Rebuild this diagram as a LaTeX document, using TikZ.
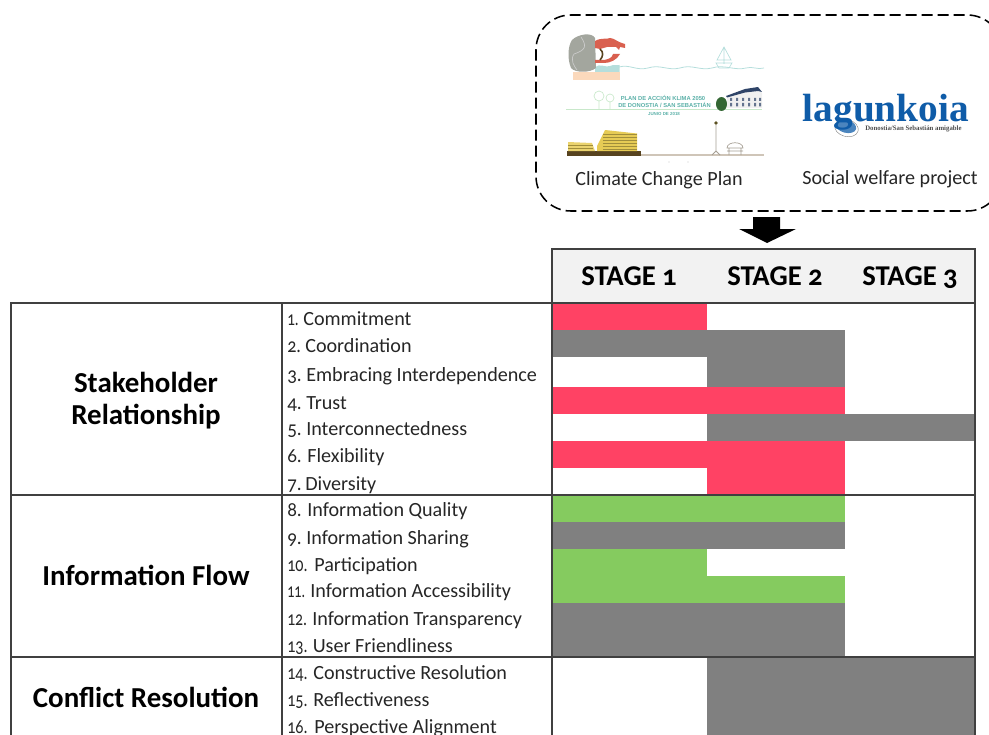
\documentclass[tikz,border=0pt]{standalone}
\usepackage{graphicx}
\usepackage{fontspec}
\setmainfont[Numbers=OldStyle]{Carlito}
\newfontfamily\logofont{Liberation Serif}
\newfontfamily\posterfont{Liberation Sans}
\definecolor{gridc}{HTML}{404040}
\definecolor{headc}{HTML}{F2F2F2}
\definecolor{pinkc}{HTML}{FF4264}
\definecolor{grayc}{HTML}{808080}
\definecolor{greenc}{HTML}{85CB5F}
\definecolor{logoc}{HTML}{0F5CA8}
\definecolor{tealc}{HTML}{5BB0A8}
\definecolor{palet}{HTML}{B5DEDC}
\definecolor{paleg}{HTML}{C8E8CA}
\definecolor{yell}{HTML}{E6CB55}
\definecolor{browng}{HTML}{57431F}
\definecolor{sandl}{HTML}{CFC5B8}
\definecolor{rockc}{HTML}{A3A69E}
\definecolor{jawc}{HTML}{D9604F}
\definecolor{sandc}{HTML}{FBD9BC}
\definecolor{roofc}{HTML}{2F4468}
% number prefix: #1 = width in picture pixels, #2 = horizontal scale, #3 = text
\newcommand{\prefixbox}[3]{\makebox[\dimexpr#1pt*3/4\relax][l]{\scalebox{#2}[1]{#3}}}
\tikzset{
  grid line/.style={draw=gridc,line width=1.1pt},
  item/.style={anchor=base west,inner sep=0pt,font=\fontsize{15.1pt}{17pt}\selectfont,text=black!85},
  cat/.style={anchor=base,inner sep=0pt,font=\fontsize{21.7pt}{24pt}\selectfont\bfseries,text=black},
  stagelabel/.style={anchor=base,inner sep=0pt,font=\fontsize{21.5pt}{24pt}\selectfont\bfseries,text=black},
  captext/.style={anchor=base,inner sep=0pt,font=\fontsize{15.1pt}{17pt}\selectfont,text=black!85},
  poster/.style={anchor=base,inner sep=0pt,text=tealc,font=\posterfont\fontsize{4.35pt}{5pt}\selectfont\bfseries},
}
\begin{document}
\begin{tikzpicture}[x=0.75pt,y=-0.75pt]
\useasboundingbox (0,0) rectangle (989,735);
\clip (0,0) rectangle (989,735);
% dashed frame
\draw[black,line width=1.15pt,dash pattern=on 8.2pt off 3.8pt,rounded corners=26pt] (536,15) rectangle (1002,211);
% poster: top band
\fill[sandc] (573,72) rectangle (619.5,80);
\fill[palet] (595,67) .. controls (600,63) and (606,68) .. (610,66) .. controls (614,64) and (617,66) .. (619.5,65) -- (619.5,72) -- (595,72) -- cycle;
\fill[rockc] (572,40) .. controls (578,34) and (592,32) .. (595,38) -- (596,68) .. controls (590,73) and (575,73) .. (571,68) .. controls (567,58) and (568,46) .. (572,40) -- cycle;
\draw[black!20,line width=0.5pt] (581,37) .. controls (587,46) and (586,50) .. (574,54) .. controls (570,60) and (574,66) .. (577,70);
\fill[jawc] (595,41) .. controls (602,37) and (606,40) .. (610,38) .. controls (614,38) and (617,42) .. (625,44) -- (625,48) -- (620,47) -- (619,50) -- (616,47) -- (607,47) -- (600,49) -- (595,48) -- cycle;
\fill[jawc] (595,60) -- (604,60) .. controls (609,59) and (612,58) .. (613,54) -- (620,54) .. controls (617,60) and (610,63) .. (604,63) -- (595,63) -- cycle;
\draw[browng,line width=1.2pt] (600,49) .. controls (604,52) and (603,57) .. (600,60);
\draw[palet,line width=0.6pt] (619,67) .. controls (630,64) and (636,71) .. (648,68) .. controls (660,64) and (668,71) .. (680,68) .. controls (692,64) and (700,71) .. (712,68) .. controls (724,64) and (735,71) .. (746,68) .. controls (752,66) and (758,70) .. (764,68);
\draw[palet,line width=0.5pt] (724,47) -- (717,60) -- (731,60) -- cycle (724,47) -- (724,64) (716,63) -- (732,63) -- (729,68) -- (719,68) -- cycle;
% poster: middle band
\draw[paleg,line width=0.6pt] (566,109.5) -- (762,109.5);
\draw[paleg,line width=0.5pt] (599,96) circle (5) (599,101) -- (599,109.5) (610,98) circle (4) (610,102) -- (610,109.5);
\node[poster] (ptitlea) at (663,100) {PLAN DE ACCIÓN KLIMA 2050};
\node[poster] (ptitleb) at (664.5,107.5) {DE DONOSTIA / SAN SEBASTIÁN};
\node[poster,font=\posterfont\fontsize{3.3pt}{4pt}\selectfont\bfseries] (ptitlec) at (664,116) {JUNIO DE 2018};
\fill[black!75!green!80] (721.5,104) ellipse (5.5 and 7);
\fill[black!6] (727,96) -- (745,91) -- (758,89) -- (762,93) -- (762,108) -- (727,108) -- cycle;
\fill[roofc] (726,96) -- (745,89) -- (758,87) -- (762,92) -- (758,91) -- (745,92.5) -- (727,97.5) -- cycle;
\foreach \wx in {730,736,742,748,754,759}{\fill[roofc!75] (\wx,98) rectangle +(2,3) (\wx,103) rectangle +(2,3.5);}
% poster: bottom band
\draw[sandl,line width=0.8pt] (640,155) -- (764,155);
\fill[browng] (567,151) rectangle (641,155.5);
\fill[yell!85!white] (568,142) -- (592,143) -- (595,151) -- (568,151) -- cycle;
\fill[yell] (597,146) -- (605,130) -- (637,133.5) -- (637,151) -- (597,151) -- cycle;
\foreach \ly in {134,137,...,149}{\draw[yell!70!black,line width=0.15pt] (603,\ly) -- (637,\ly);}
\foreach \ly in {145,148}{\draw[yell!70!black,line width=0.15pt] (568,\ly) -- (593,\ly);}
\draw[sandl!80!black,line width=0.7pt] (716,125) -- (716,152) (712,155) -- (716,151) -- (720,155);
\fill[black!60!yell] (716,123) circle (1.8);
\draw[sandl!80!black,line width=0.5pt] (727,148) .. controls (727,141) and (743,141) .. (743,148) -- cycle (727,151) -- (743,151) (729,148) -- (729,155) (741,148) -- (741,155);
\fill[black!60] (669,162) circle (0.4) (688,162) circle (0.4);
% logo
\begin{scope}[rotate around={-15:(846.5,128)}]
\draw[black!50,fill=white,line width=0.3pt] (846.5,128) ellipse (12 and 8.5);
\fill[logoc!75!white] (845.5,126.5) ellipse (10.5 and 6.5);
\end{scope}
\node[anchor=base west,inner sep=0pt,text=logoc,font=\logofont\fontsize{29.5pt}{32pt}\selectfont\bfseries] (logo) at (802.5,122) {lagunkoia};
\node[anchor=base west,inner sep=0pt,text=black!70,font=\logofont\fontsize{5.1pt}{6pt}\selectfont\bfseries] (logosub) at (865,130) {Donostia/San Sebastián amigable};
\node[captext] (capa) at (659,185) {Climate Change Plan};
\node[captext] (capb) at (890,184) {Social welfare project};
% block arrow between frame and table
\coordinate (arrtip) at (767,243);
\fill[black] (753,217) -- (780,217) -- (780,229) -- (796,229) -- (arrtip) -- (739,229) -- (753,229) -- cycle;
% header
\fill[headc] (552,249) rectangle (975,303);
\node[stagelabel] (sa) at (629,285) {STAGE 1};
\node[stagelabel] (sb) at (775,285) {STAGE 2};
\node[stagelabel] (sc) at (910,285) {STAGE 3};
% bars
\fill[pinkc] (552,303) rectangle (707,330);
\fill[grayc] (552,330) rectangle (845,357);
\fill[grayc] (707,357) rectangle (845,387);
\fill[pinkc] (552,387) rectangle (845,414);
\fill[grayc] (707,414) rectangle (975,441);
\fill[pinkc] (552,441) rectangle (845,468);
\fill[pinkc] (707,468) rectangle (845,495);
\fill[greenc] (552,495) rectangle (845,522);
\fill[grayc] (552,522) rectangle (845,549);
\fill[greenc] (552,549) rectangle (707,603);
\fill[greenc] (707,576) rectangle (845,603);
\fill[grayc] (552,603) rectangle (845,657);
\fill[grayc] (707,657) rectangle (975,735);
% grid
\draw[grid line] (552,303) -- (552,249) -- (975,249) -- (975,735);
\draw[grid line] (11,735) -- (11,303) -- (975,303);
\draw[grid line] (11,495) -- (975,495);
\draw[grid line] (11,657) -- (975,657);
\draw[grid line] (282,303) -- (282,735);
\draw[grid line] (552,303) -- (552,735);
% categories
\node[cat] (ca) at (146,392) {Stakeholder};
\node[cat] (cb) at (146,424) {Relationship};
\node[cat] (cc) at (146,585) {Information Flow};
\node[cat] (cd) at (146,707) {Conflict Resolution};
% items
\node[item] (i1) at (287,325) {\prefixbox{16}{.75}{1.}Commitment};
\node[item] (i2) at (287,352) {\prefixbox{18}{.9}{2.}Coordination};
\node[item] (i3) at (287,381.5) {\prefixbox{19}{.95}{3.}Embracing Interdependence};
\node[item] (i4) at (287,409) {\prefixbox{19}{.95}{4.}Trust};
\node[item] (i5) at (287,435.7) {\prefixbox{19}{.95}{5.}Interconnectedness};
\node[item] (i6) at (287,462.7) {\prefixbox{20}{.95}{6.}Flexibility};
\node[item] (i7) at (287,490) {\prefixbox{18}{.95}{7.}Diversity};
\node[item] (i8) at (287,516.7) {\prefixbox{20}{.95}{8.}Information Quality};
\node[item] (i9) at (287,544) {\prefixbox{19}{.95}{9.}Information Sharing};
\node[item] (i10) at (287,571) {\prefixbox{27}{.8}{10.}Participation};
\node[item] (i11) at (287,597.7) {\prefixbox{23}{.7}{11.}Information Accessibility};
\node[item] (i12) at (287,625) {\prefixbox{25}{.78}{12.}Information Transparency};
\node[item] (i13) at (287,652.3) {\prefixbox{25.5}{.8}{13.}User Friendliness};
\node[item] (i14) at (287,679) {\prefixbox{26}{.8}{14.}Constructive Resolution};
\node[item] (i15) at (287,706.7) {\prefixbox{26}{.8}{15.}Reflectiveness};
\node[item] (i16) at (287,733.3) {\prefixbox{27}{.8}{16.}Perspective Alignment};
\end{tikzpicture}
\end{document}
